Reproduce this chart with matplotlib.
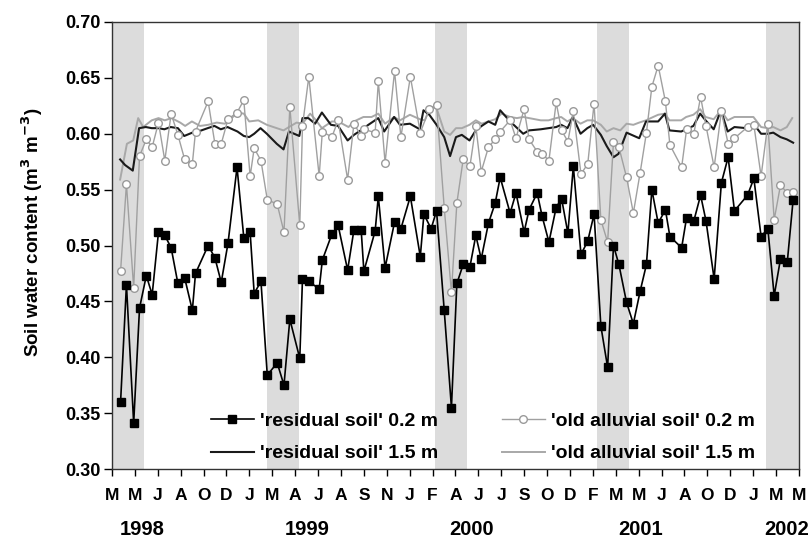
import numpy as np
import matplotlib
matplotlib.use("Agg")
import matplotlib.pyplot as plt

plt.rcParams['font.family'] = ['Liberation Sans', 'DejaVu Sans']
plt.rcParams['font.weight'] = 'bold'

# ---------------- data (days since start of record, ~1 March 1998) ----------------
days_02 = [19, 32, 48, 61, 76, 89, 103, 117, 131, 146, 161, 178, 185, 213, 228, 242, 257, 277,
           292, 306, 315, 330, 344, 366, 381, 394, 416, 422, 436, 459, 466, 487, 501, 522, 536,
           552, 558, 583, 590, 605, 626, 640, 661, 683, 691, 707, 719, 736, 752, 764, 778, 793,
           806, 818, 834, 849, 860, 882, 895, 913, 924, 942, 953, 968, 984, 996, 1010, 1022,
           1039, 1054, 1068, 1083, 1098, 1111, 1123, 1140, 1155, 1170, 1184, 1196, 1210, 1226,
           1236, 1262, 1273, 1289, 1304, 1316, 1334, 1350, 1365, 1379, 1408, 1422, 1438, 1453,
           1467, 1481, 1496, 1509]
residual_02 = [0.360, 0.465, 0.341, 0.444, 0.473, 0.456, 0.512, 0.509, 0.498, 0.466, 0.471, 0.442,
               0.475, 0.500, 0.489, 0.467, 0.502, 0.570, 0.507, 0.512, 0.457, 0.468, 0.384, 0.395,
               0.375, 0.434, 0.399, 0.470, 0.468, 0.461, 0.487, 0.510, 0.518, 0.478, 0.514, 0.514,
               0.477, 0.513, 0.544, 0.480, 0.521, 0.515, 0.544, 0.490, 0.528, 0.515, 0.531, 0.442,
               0.355, 0.466, 0.483, 0.481, 0.509, 0.488, 0.520, 0.538, 0.561, 0.529, 0.547, 0.512,
               0.532, 0.547, 0.526, 0.503, 0.534, 0.542, 0.511, 0.571, 0.492, 0.504, 0.528, 0.428,
               0.391, 0.500, 0.483, 0.449, 0.430, 0.459, 0.483, 0.550, 0.520, 0.532, 0.508, 0.498,
               0.525, 0.522, 0.545, 0.522, 0.470, 0.556, 0.579, 0.531, 0.545, 0.560, 0.508, 0.515,
               0.455, 0.488, 0.485, 0.541]

days_alluv_02 = [19, 32, 48, 61, 76, 89, 103, 117, 131, 146, 161, 178, 185, 213, 228, 242, 257, 277,
                 292, 306, 315, 330, 344, 366, 381, 394, 416, 422, 436, 459, 466, 487, 501, 522, 536,
                 552, 558, 583, 590, 605, 626, 640, 661, 683, 703, 719, 736, 752, 764, 778, 793,
                 806, 818, 834, 849, 860, 882, 895, 913, 924, 942, 953, 968, 984, 996, 1010, 1022,
                 1039, 1054, 1068, 1083, 1098, 1111, 1123, 1140, 1155, 1170, 1184, 1196, 1210, 1226,
                 1236, 1262, 1273, 1289, 1304, 1316, 1334, 1350, 1365, 1379, 1408, 1422, 1438, 1453,
                 1467, 1481, 1496, 1509]
alluvial_02 = [0.477, 0.555, 0.462, 0.580, 0.595, 0.588, 0.610, 0.576, 0.618, 0.599, 0.577, 0.573,
               0.602, 0.629, 0.591, 0.591, 0.613, 0.619, 0.630, 0.562, 0.587, 0.576, 0.541, 0.537,
               0.512, 0.624, 0.518, 0.607, 0.651, 0.562, 0.602, 0.597, 0.612, 0.559, 0.609, 0.598,
               0.604, 0.601, 0.647, 0.574, 0.656, 0.597, 0.651, 0.601, 0.622, 0.626, 0.534, 0.458,
               0.538, 0.577, 0.571, 0.607, 0.566, 0.588, 0.595, 0.602, 0.612, 0.596, 0.622, 0.595,
               0.584, 0.582, 0.576, 0.628, 0.603, 0.593, 0.620, 0.564, 0.573, 0.627, 0.523, 0.503,
               0.593, 0.588, 0.561, 0.529, 0.565, 0.601, 0.642, 0.661, 0.629, 0.590, 0.570, 0.604,
               0.600, 0.633, 0.607, 0.570, 0.620, 0.591, 0.596, 0.606, 0.608, 0.562, 0.609, 0.523,
               0.554, 0.547, 0.548]

days_res_15 = [18, 29, 46, 60, 75, 88, 103, 116, 130, 146, 160, 178, 191, 212, 227, 241, 256, 278,
               292, 304, 315, 329, 343, 365, 380, 392, 415, 422, 435, 450, 465, 485, 501, 522, 536,
               551, 568, 590, 603, 625, 638, 660, 682, 690, 703, 719, 736, 749, 762, 775, 792, 806,
               819, 834, 849, 860, 882, 911, 924, 950, 967, 984, 995, 1009, 1021, 1038, 1053, 1066,
               1083, 1096, 1111, 1122, 1140, 1168, 1183, 1210, 1225, 1235, 1261, 1272, 1288, 1303,
               1315, 1333, 1349, 1364, 1379, 1406, 1421, 1438, 1453, 1465, 1481, 1495, 1509]
residual_15 = [0.577, 0.572, 0.567, 0.605, 0.606, 0.605, 0.605, 0.604, 0.606, 0.605, 0.598, 0.601,
               0.602, 0.605, 0.607, 0.604, 0.606, 0.602, 0.598, 0.597, 0.600, 0.605, 0.600, 0.591,
               0.586, 0.602, 0.598, 0.614, 0.614, 0.609, 0.619, 0.608, 0.607, 0.594, 0.599, 0.603,
               0.608, 0.614, 0.602, 0.615, 0.608, 0.609, 0.604, 0.621, 0.617, 0.608, 0.597, 0.580,
               0.597, 0.599, 0.594, 0.603, 0.607, 0.611, 0.608, 0.621, 0.611, 0.600, 0.603, 0.604,
               0.605, 0.606, 0.608, 0.605, 0.615, 0.600, 0.605, 0.608, 0.599, 0.589, 0.579, 0.582,
               0.601, 0.596, 0.611, 0.611, 0.618, 0.603, 0.602, 0.604, 0.607, 0.618, 0.612, 0.604,
               0.621, 0.602, 0.606, 0.605, 0.609, 0.600, 0.600, 0.601, 0.597, 0.595, 0.592]

days_alluv_15 = [18, 33, 47, 58, 69, 88, 103, 117, 132, 151, 162, 177, 195, 213, 232, 250, 265, 278,
                 292, 304, 324, 343, 365, 380, 392, 409, 422, 439, 450, 465, 487, 501, 524, 536, 557,
                 575, 590, 605, 625, 638, 660, 682, 693, 705, 719, 736, 749, 762, 775, 792, 806, 819,
                 834, 849, 863, 882, 897, 911, 924, 950, 967, 984, 995, 1009, 1021, 1038, 1053, 1066,
                 1083, 1096, 1111, 1126, 1140, 1155, 1168, 1183, 1199, 1210, 1225, 1235, 1261, 1272,
                 1288, 1303, 1315, 1333, 1349, 1364, 1379, 1406, 1421, 1438, 1453, 1465, 1481, 1495,
                 1507]
alluvial_15 = [0.559, 0.591, 0.594, 0.614, 0.606, 0.612, 0.614, 0.612, 0.614, 0.610, 0.607, 0.611,
               0.607, 0.608, 0.610, 0.609, 0.614, 0.619, 0.618, 0.611, 0.612, 0.608, 0.605, 0.603,
               0.606, 0.610, 0.609, 0.618, 0.613, 0.605, 0.611, 0.611, 0.606, 0.611, 0.615, 0.615,
               0.618, 0.609, 0.615, 0.612, 0.617, 0.613, 0.612, 0.624, 0.623, 0.602, 0.599, 0.605,
               0.605, 0.608, 0.612, 0.609, 0.611, 0.613, 0.618, 0.615, 0.614, 0.615, 0.614, 0.612,
               0.612, 0.614, 0.615, 0.611, 0.614, 0.609, 0.612, 0.612, 0.608, 0.602, 0.605, 0.603,
               0.609, 0.608, 0.610, 0.612, 0.615, 0.617, 0.618, 0.612, 0.612, 0.615, 0.617, 0.622,
               0.615, 0.613, 0.621, 0.612, 0.615, 0.615, 0.615, 0.606, 0.605, 0.606, 0.603, 0.606,
               0.614]

# shaded wet-season periods (days)
band_start = [0, 343, 716, 1075, 1448]
band_end = [72, 414, 786, 1145, 1522]

x_end = 1522
month_labels = list("MMJAODJMAJASNJFAJJSODFMMJAODJMM")
year_labels = ['1998', '1999', '2000', '2001', '2002']
year_pos = [66, 432, 797, 1172, 1495]

# ---------------- figure ----------------
fig = plt.figure(figsize=(8.11, 5.40), dpi=100)
ax = fig.add_axes([112 / 811, 1 - 469 / 540, 687 / 811, 447 / 540])

for s, e in zip(band_start, band_end):
    ax.axvspan(s, e, color='#dcdcdc', lw=0, zorder=0)

ax.plot(days_alluv_15, alluvial_15, color='#a8a8a8', lw=1.4, zorder=2,
        label="'old alluvial soil' 1.5 m")
ax.plot(days_res_15, residual_15, color='#1a1a1a', lw=1.5, zorder=3,
        label="'residual soil' 1.5 m")
ax.plot(days_alluv_02, alluvial_02, color='#a0a0a0', lw=1.0, marker='o', ms=5.5,
        mfc='white', mec='#9a9a9a', mew=1.0, zorder=4,
        label="'old alluvial soil' 0.2 m")
ax.plot(days_02, residual_02, color='black', lw=1.2, marker='s', ms=6,
        mfc='black', mec='black', zorder=5, label="'residual soil' 0.2 m")

ax.set_xlim(0, x_end)
ax.set_ylim(0.30, 0.70)
yt = np.arange(0.30, 0.701, 0.05)
ax.set_yticks(yt)
ax.set_yticklabels([f"{v:.2f}" for v in yt], fontsize=13, fontweight='bold')
ax.set_xticks(np.linspace(0, x_end, len(month_labels)))
ax.set_xticklabels(month_labels, fontsize=12.5, fontweight='bold')
ax.tick_params(axis='x', direction='out', length=5, width=1, pad=9)
ax.tick_params(axis='y', direction='out', length=6, width=1, pad=2)

for yl, yp in zip(year_labels, year_pos):
    ax.text(yp, -0.135, yl, transform=ax.get_xaxis_transform(), ha='center', va='center',
            fontsize=14.5, fontweight='bold')

ax.set_ylabel('Soil water content (m$^\\mathbf{3}$ m$^\\mathbf{-3}$)', fontsize=13.5,
              fontweight='bold')
ax.yaxis.set_label_coords(-0.098, 0.53)

for sp in ax.spines.values():
    sp.set_linewidth(1.0)
    sp.set_color('#333333')

h, l = ax.get_legend_handles_labels()
order = [3, 1, 2, 0]
leg = ax.legend([h[i] for i in order], [l[i] for i in order], ncol=2, frameon=False,
                loc='lower left', bbox_to_anchor=(0.13, -0.007), borderaxespad=0.1,
                prop={'size': 14, 'weight': 'bold'}, handlelength=2.2,
                handletextpad=0.3, columnspacing=3.3, labelspacing=0.78)

fig.savefig('out.png', dpi=100)
